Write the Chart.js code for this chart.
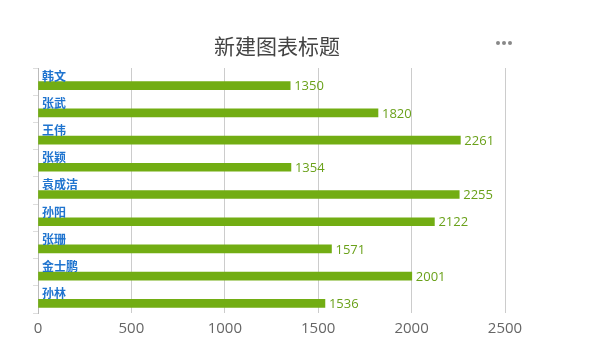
<!DOCTYPE html>
<html><head><meta charset="utf-8">
<script src="https://cdn.jsdelivr.net/npm/chart.js@4/dist/chart.umd.min.js"></script>
<style>html,body{margin:0;padding:0;background:#fff}#wrap{width:612px;height:355px}</style>
</head><body><div id="wrap"><canvas id="c" width="612" height="355"></canvas></div>
<script>
const categories = ['韩文','张武','王伟','张颖','袁成洁','孙阳','张珊','金士鹏','孙林'];
const values = [1350,1820,2261,1354,2255,2122,1571,2001,1536];
const xTicks = [0,500,1000,1500,2000,2500];
const title = '新建图表标题';

const labelPlugin = {
  id: 'labels',
  afterDatasetsDraw(chart) {
    const ctx = chart.ctx;
    const ys = chart.scales.y;
    const meta = chart.getDatasetMeta(1);
    ctx.save();
    ctx.textBaseline = 'middle';
    categories.forEach((name, i) => {
      const top = ys.getPixelForValue(i) - (ys.getPixelForValue(1) - ys.getPixelForValue(0)) / 2;
      ctx.font = 'bold 12px "Noto Sans CJK SC", sans-serif';
      ctx.fillStyle = '#1f74cf';
      ctx.textAlign = 'left';
      ctx.fillText(name, chart.chartArea.left + 4, top + 8);
      const bar = meta.data[i];
      ctx.font = '13px "Open Sans", "Noto Sans", sans-serif';
      ctx.fillStyle = '#6aa11a';
      ctx.fillText(String(values[i]), bar.x + 4, bar.y + 1);
    });
    ctx.font = '21px "Noto Sans CJK SC", sans-serif';
    ctx.fillStyle = '#444';
    ctx.textAlign = 'center';
    ctx.fillText(title, 277, 46);
    ctx.fillStyle = '#888';
    [498, 504, 510].forEach(x => { ctx.beginPath(); ctx.arc(x, 43, 2, 0, Math.PI * 2); ctx.fill(); });
    ctx.restore();
  }
};

new Chart(document.getElementById('c'), {
  type: 'bar',
  data: {
    labels: categories,
    datasets: [
      { data: categories.map(() => null), backgroundColor: 'rgba(0,0,0,0)' },
      { data: values, backgroundColor: '#72ad13', barThickness: 8 }
    ]
  },
  options: {
    indexAxis: 'y',
    responsive: false,
    animation: false,
    layout: { padding: { top: 68, right: 107, left: 0, bottom: 0 } },
    datasets: { bar: { categoryPercentage: 1, barPercentage: 1 } },
    plugins: { legend: { display: false }, tooltip: { enabled: false }, title: { display: false } },
    scales: {
      x: {
        min: 0, max: 2500,
        afterBuildTicks: s => { s.ticks = xTicks.map(v => ({ value: v })); },
        afterFit: s => { s.height = 42; },
        grid: { color: '#cccccc', drawTicks: false },
        border: { display: false },
        ticks: { color: '#666', font: { size: 15, family: '"Open Sans", "Noto Sans", sans-serif' }, padding: 7,
                 callback: v => String(v) }
      },
      y: {
        afterFit: s => { s.width = 38; },
        ticks: { display: false },
        grid: { drawOnChartArea: false, drawTicks: true, tickLength: 5, color: '#dddddd' },
        border: { display: true, color: '#bbbbbb' }
      }
    }
  },
  plugins: [labelPlugin]
});
</script></body></html>
